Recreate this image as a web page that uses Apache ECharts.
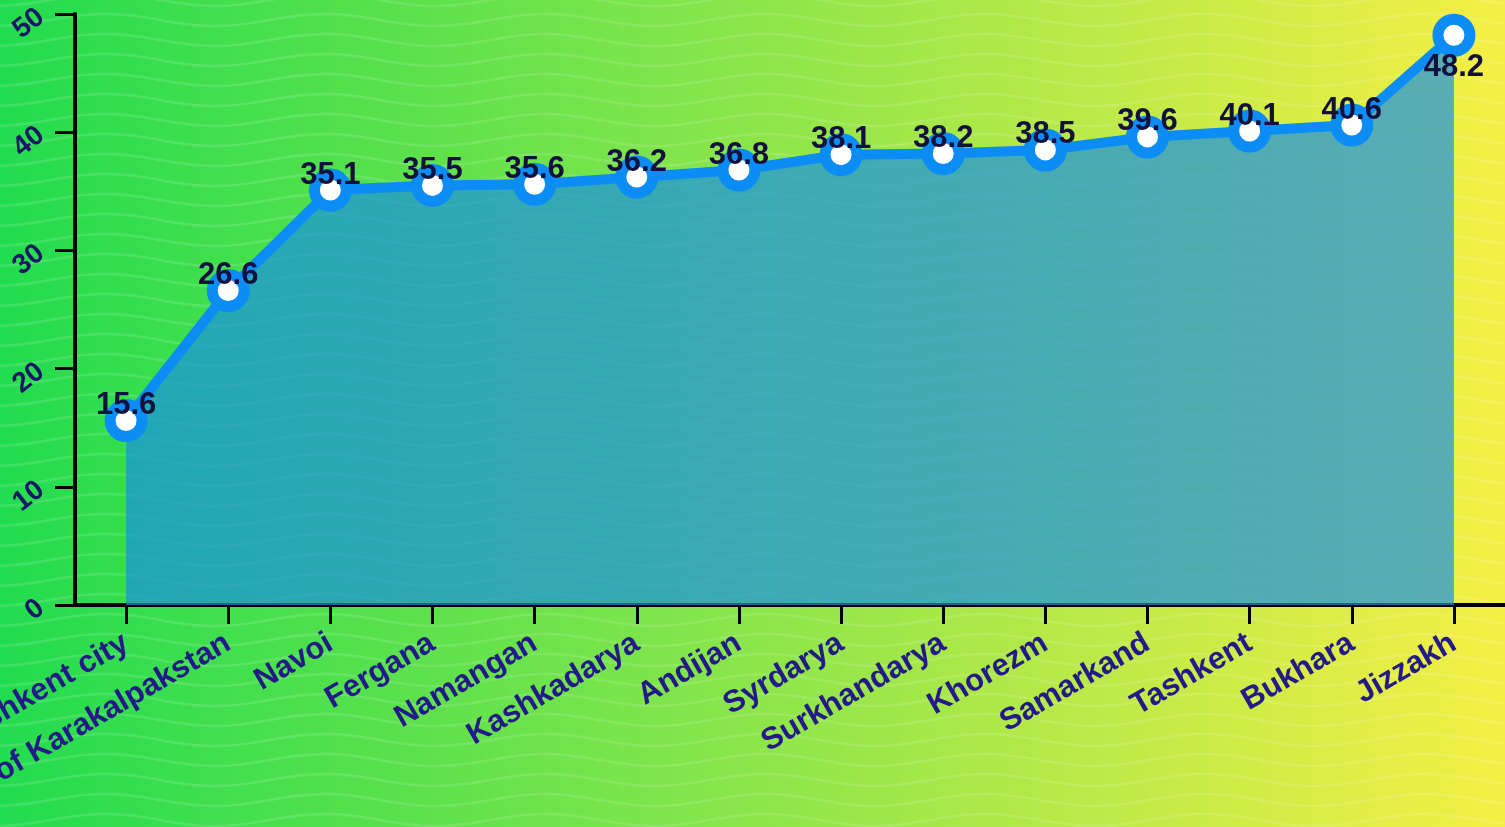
<!DOCTYPE html>
<html>
<head>
<meta charset="utf-8">
<script src="https://cdn.jsdelivr.net/npm/echarts@6/dist/echarts.min.js"></script>
<style>
html,body{margin:0;padding:0;overflow:hidden;}
#chart{width:1505px;height:827px;}
</style>
</head>
<body>
<div id="chart"></div>
<script>
const categories = ["Tashkent city", "Republic of Karakalpakstan", "Navoi", "Fergana", "Namangan", "Kashkadarya", "Andijan", "Syrdarya", "Surkhandarya", "Khorezm", "Samarkand", "Tashkent", "Bukhara", "Jizzakh"];
const values = [15.6, 26.6, 35.1, 35.5, 35.6, 36.2, 36.8, 38.1, 38.2, 38.5, 39.6, 40.1, 40.6, 48.2];
const yTicks = [0, 10, 20, 30, 40, 50];

const W = 1505, H = 827;
// background: horizontal gradient with faint wave pattern
const bg = document.createElement('canvas');
bg.width = W; bg.height = H;
const ctx = bg.getContext('2d');
const grad = ctx.createLinearGradient(0, 0, W, 0);
grad.addColorStop(0, '#22dc4f');
grad.addColorStop(1, '#f5ef45');
ctx.fillStyle = grad;
ctx.fillRect(0, 0, W, H);
ctx.strokeStyle = 'rgba(255,255,255,0.13)';
ctx.lineWidth = 2.5;
for (let y0 = -20; y0 < H + 20; y0 += 20) {
  ctx.beginPath();
  for (let x = 0; x <= W; x += 4) {
    const y = y0 + 6 * Math.sin(2 * Math.PI * (x + 60) / 220);
    if (x === 0) ctx.moveTo(x, y); else ctx.lineTo(x, y);
  }
  ctx.stroke();
}

const lineColor = '#0b8df5';
const seriesData = values.map((v, i) => i === values.length - 1
  ? { value: v, label: { position: 'bottom', offset: [0, -10] } }
  : v);

const chart = echarts.init(document.getElementById('chart'), null, { renderer: 'canvas' });
chart.setOption({
  animation: false,
  backgroundColor: 'transparent',
  graphic: [{
    type: 'image', z: -100, zlevel: 0, silent: true, left: 0, top: 0,
    style: { image: bg, x: 0, y: 0, width: W, height: H }
  }],
  grid: { left: 75, right: 0, top: 14, bottom: 222, containLabel: false, outerBoundsMode: 'none' },
  xAxis: {
    type: 'category',
    data: categories,
    boundaryGap: true,
    axisLine: { show: true, lineStyle: { color: '#000', width: 4 } },
    axisTick: { show: true, alignWithLabel: true, length: 19, lineStyle: { color: '#000', width: 3 } },
    axisLabel: {
      interval: 0, rotate: 30, margin: 36,
      color: '#231a87', fontSize: 31, fontWeight: 'bold', fontFamily: 'Liberation Sans, Arial, sans-serif'
    },
    splitLine: { show: false }
  },
  yAxis: {
    type: 'value',
    min: yTicks[0], max: yTicks[yTicks.length - 1], interval: 10,
    axisLine: { show: true, lineStyle: { color: '#000', width: 4 } },
    axisTick: { show: true, length: 20, lineStyle: { color: '#000', width: 3 } },
    axisLabel: {
      rotate: 38, margin: 34,
      color: '#1a1565', fontSize: 28, fontWeight: 'bold', fontFamily: 'Liberation Sans, Arial, sans-serif'
    },
    splitLine: { show: false }
  },
  series: [{
    type: 'line',
    data: seriesData,
    symbol: 'circle',
    symbolSize: 32,
    showAllSymbol: true,
    lineStyle: { color: lineColor, width: 10 },
    itemStyle: { color: '#ffffff', borderColor: lineColor, borderWidth: 11 },
    areaStyle: { color: 'rgb(26,144,223)', opacity: 0.7 },
    label: {
      show: true, position: 'top', distance: 5, offset: [0, 27],
      color: '#14103d', fontSize: 31, fontWeight: 'bold', fontFamily: 'Liberation Sans, Arial, sans-serif'
    },
    z: 3
  }]
});
</script>
</body>
</html>
